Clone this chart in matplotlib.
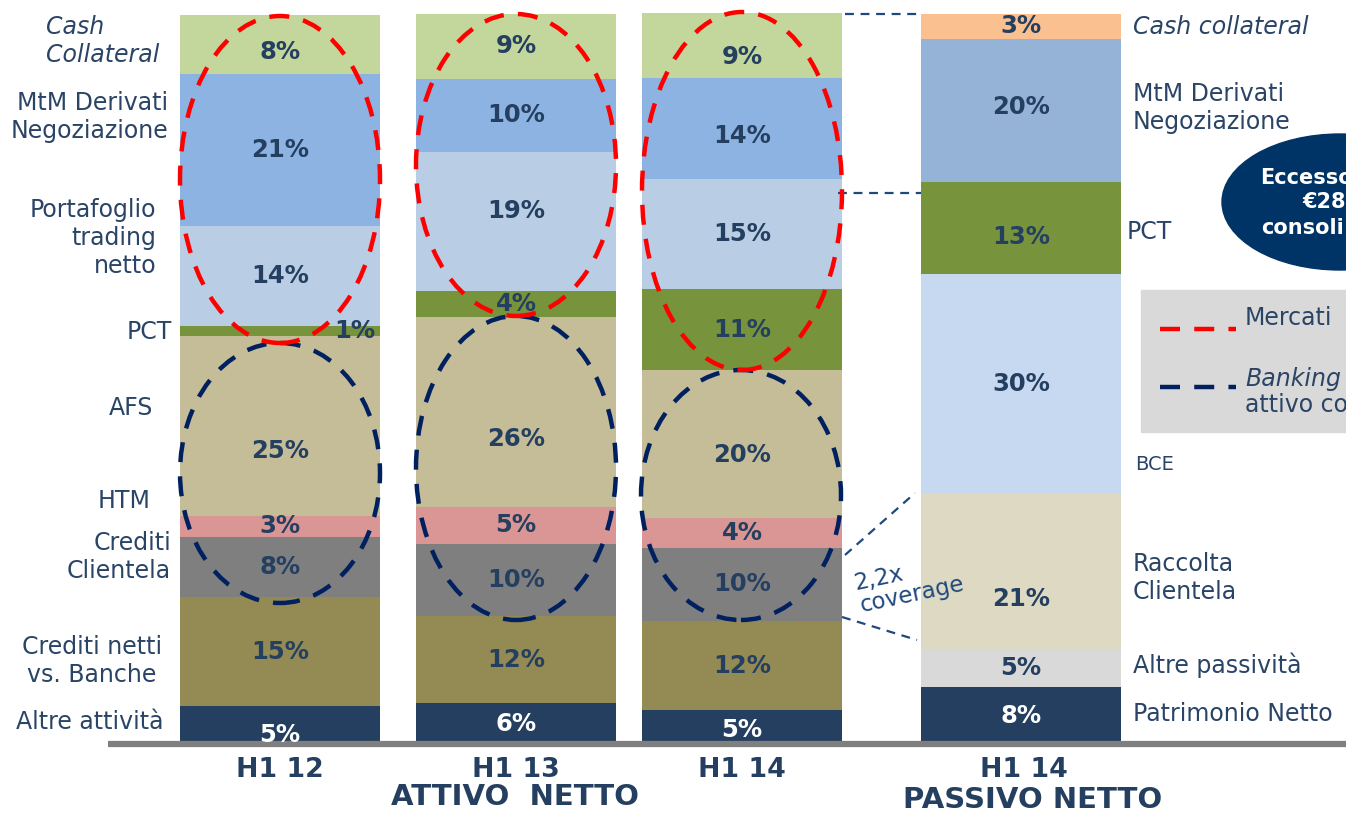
import numpy as np
import matplotlib.pyplot as plt
from matplotlib.patches import Ellipse, Rectangle

# --- data (share of total, %) ---
periods = ["H1 12", "H1 13", "H1 14"]
attivo_cats = ["Altre attività", "Crediti netti vs. Banche", "Crediti Clientela", "HTM",
               "AFS", "PCT", "Portafoglio trading netto", "MtM Derivati Negoziazione",
               "Cash Collateral"]
attivo_h1_12 = [5.2, 14.9, 8.2, 3.0, 24.6, 1.4, 13.7, 20.8, 8.1]
attivo_h1_13 = [5.6, 11.9, 9.9, 5.1, 26.0, 3.6, 19.0, 10.0, 8.9]
attivo_h1_14 = [4.6, 12.3, 9.9, 4.1, 20.3, 11.1, 15.1, 13.8, 8.9]
attivo_colors = ["#243F60", "#948A54", "#7F7F7F", "#D99694", "#C4BD97",
                 "#77933C", "#B9CDE5", "#8DB3E2", "#C3D69B"]

passivo_label = "H1 14"
passivo_cats = ["Patrimonio Netto", "Altre passività", "Raccolta Clientela", "BCE",
                "PCT", "MtM Derivati Negoziazione", "Cash collateral"]
passivo_h1_14 = [7.8, 5.1, 21.4, 30.1, 12.6, 19.6, 3.4]
passivo_colors = ["#243F60", "#D9D9D9", "#DDD9C3", "#C6D9F1",
                  "#77933C", "#95B3D7", "#FAC090"]

NAVY = "#243F60"
TXT = "#2A4466"

fig = plt.figure(figsize=(13.46, 8.14), dpi=100)
ax = fig.add_axes([0, 0, 1, 1])
PX = 7.3  # pixels per percentage point
ax.set_xlim(0, 1346)
ax.set_ylim(-70 / PX, 100 + 14 / PX)
ax.axis("off")

def py(p):
    # pixel row -> data y
    return (744 - p) / PX

xs = [280, 516, 742]
W = 200

# label nudges (in %) for a few labels that sit off-centre in the original
nudge = {(0, 4): -3.5, (1, 4): -3.7, (2, 4): -1.5, (0, 0): -1.3, (0, 8): -1.1,
         (1, 6): 1.4, (2, 8): -1.6, (2, 7): -1.0, (2, 0): -0.4}

for i, vals in enumerate([attivo_h1_12, attivo_h1_13, attivo_h1_14]):
    bottoms = np.concatenate([[0], np.cumsum(vals)[:-1]])
    ax.bar(xs[i], vals, bottom=bottoms, width=W, color=attivo_colors, zorder=2)
    for j, (v, b) in enumerate(zip(vals, bottoms)):
        tx = xs[i] + (75 if v < 2 else 0)
        ax.text(tx, b + v / 2 + nudge.get((i, j), 0), f"{v:.0f}%", ha="center",
                va="center", fontsize=17.5, fontweight="bold",
                color="white" if j == 0 else NAVY, zorder=5)

# passivo bar
xp = 1021
bottoms = np.concatenate([[0], np.cumsum(passivo_h1_14)[:-1]])
ax.bar(xp, passivo_h1_14, bottom=bottoms, width=W, color=passivo_colors, zorder=2)
pnudge = {2: -3.8, 4: -1.2, 5: 0.5}
for j, (v, b) in enumerate(zip(passivo_h1_14, bottoms)):
    ax.text(xp, b + v / 2 + pnudge.get(j, 0), f"{v:.0f}%", ha="center", va="center",
            fontsize=17.5, fontweight="bold", color="white" if j == 0 else NAVY, zorder=5)

# dashed ellipses: (x centre, top px, bottom px)
red_ell = [(280, 16, 343), (516, 14, 316), (742, 12, 370)]
blue_ell = [(280, 343, 603), (516, 316, 620), (741, 370, 620)]
for ells, col in [(blue_ell, "#002060"), (red_ell, "#FF0000")]:
    for cx, t, b in ells:
        e = Ellipse((cx, py((t + b) / 2)), 200, (b - t) / PX, fill=False,
                    edgecolor=col, lw=3.2, linestyle=(0, (4.5, 3.2)), zorder=4)
        ax.add_patch(e)

# baseline
ax.plot([108, 1346], [0, 0], color="#7F7F7F", lw=4.5, zorder=3, solid_capstyle="butt")

# connector lines
dcol = "#1F497D"
ax.plot([845, 921], [py(14), py(14)], color=dcol, lw=1.6, ls=(0, (4, 3)))
ax.plot([838, 921], [py(193), py(193)], color=dcol, lw=1.6, ls=(0, (4, 3)))
ax.plot([845, 915], [py(555), py(493)], color=dcol, lw=1.6, ls=(0, (4, 3)))
ax.plot([842, 917], [py(617), py(640)], color=dcol, lw=1.6, ls=(0, (4, 3)))
ax.text(852, py(590), "2,2x", fontsize=16.5, color=dcol, rotation=12, ha="left", va="baseline")
ax.text(858, py(612), "coverage", fontsize=16.5, color=dcol, rotation=12, ha="left", va="baseline")

# left category labels
lab = dict(fontsize=17, color=TXT, linespacing=1.2, va="center")
ax.text(46, py(41), "Cash\nCollateral", ha="left", style="italic", **lab)
ax.text(168, py(117), "MtM Derivati\nNegoziazione", ha="right", **lab)
ax.text(156, py(238), "Portafoglio\ntrading\nnetto", ha="right", multialignment="right", **lab)
ax.text(172, py(332), "PCT", ha="right", **lab)
ax.text(153, py(408), "AFS", ha="right", **lab)
ax.text(150, py(501), "HTM", ha="right", **lab)
ax.text(171, py(557), "Crediti\nClientela", ha="right", multialignment="right", **lab)
ax.text(92, py(661), "Crediti netti\nvs. Banche", ha="center", **lab)
ax.text(163, py(722), "Altre attività", ha="right", **lab)

# right category labels
ax.text(1133, py(27), "Cash collateral", ha="left", style="italic", **lab)
ax.text(1133, py(108), "MtM Derivati\nNegoziazione", ha="left", **lab)
ax.text(1127, py(232), "PCT", ha="left", **lab)
ax.text(1135, py(464), "BCE", ha="left", fontsize=14, color=TXT, va="center")
ax.text(1133, py(578), "Raccolta\nClientela", ha="left", **lab)
ax.text(1133, py(665), "Altre passività", ha="left", **lab)
ax.text(1133, py(714), "Patrimonio Netto", ha="left", **lab)

# x labels
xl = dict(fontsize=19.3, fontweight="bold", color=NAVY, ha="center", va="center")
for x, p in zip(xs, periods):
    ax.text(x, py(770), p, **xl)
ax.text(1024, py(770), passivo_label, **xl)
xl["fontsize"] = 21
ax.text(515, py(797), "ATTIVO  NETTO", **xl)
ax.text(1033, py(800), "PASSIVO NETTO", **xl)

# callout oval (cut by the frame)
ax.add_patch(Ellipse((1340, py(202)), 236, 136 / PX, color="#003366", zorder=3))
ox = dict(fontsize=15, fontweight="bold", color="white", ha="left", va="center", zorder=6)
ax.text(1260, py(178), "Eccesso", **ox)
ax.text(1302, py(202), "€28", **ox)
ax.text(1261, py(228), "consoli", **ox)

# legend box
ax.add_patch(Rectangle((1141, py(432)), 210, 142 / PX, color="#D9D9D9", zorder=1))
ax.plot([1160, 1236], [py(329), py(329)], color="#FF0000", lw=3.2, ls=(0, (4.5, 3.2)))
ax.plot([1160, 1236], [py(387), py(387)], color="#002060", lw=3.2, ls=(0, (4.5, 3.2)))
ax.text(1245, py(318), "Mercati", ha="left", **lab)
ax.text(1245, py(379), "Banking", ha="left", style="italic", **lab)
ax.text(1245, py(405), "attivo co", ha="left", **lab)

fig.savefig("out.png", dpi=100)
